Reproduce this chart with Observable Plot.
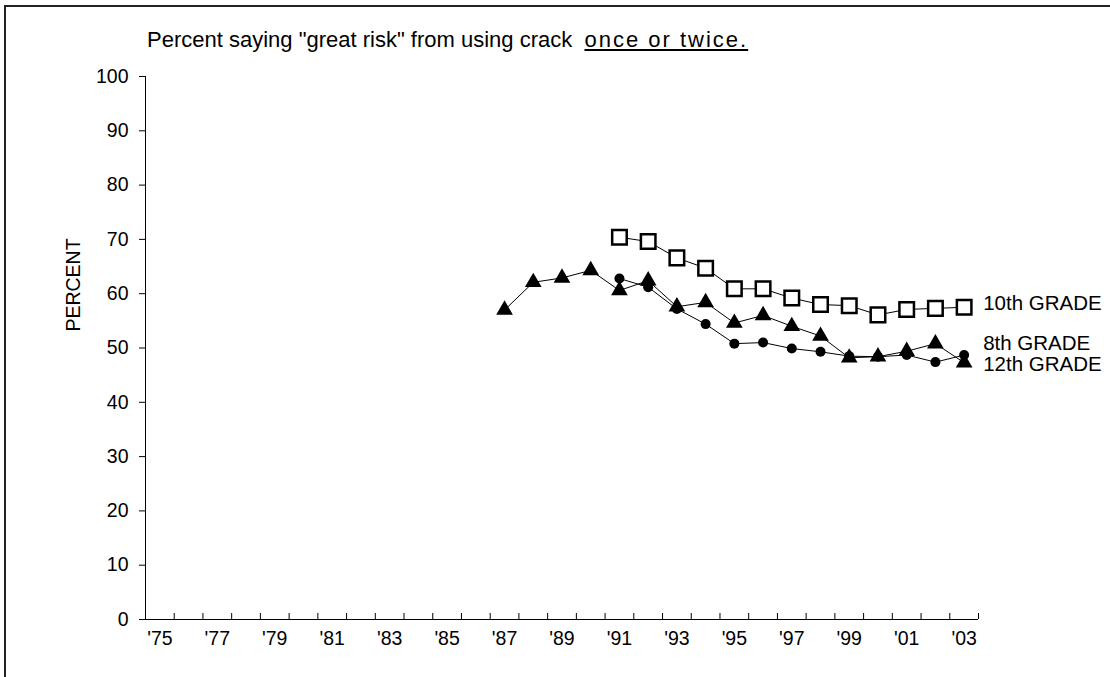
<!DOCTYPE html>
<html>
<head>
<meta charset="utf-8">
<script src="https://cdn.jsdelivr.net/npm/d3@7"></script>
<script src="https://cdn.jsdelivr.net/npm/@observablehq/plot@0.6"></script>
<style>
  html, body { margin: 0; padding: 0; background: #fff; overflow: hidden; width: 1110px; height: 677px; }
  #wrap { position: relative; width: 1110px; height: 677px; font-family: "Liberation Sans", Arial, sans-serif; color: #000; }
  #frame { position: absolute; left: 4px; top: 5px; width: 2000px; height: 2000px; border-left: 2px solid #222; border-top: 2px solid #222; pointer-events: none; }
  #title { position: absolute; left: 147px; top: 27px; font-size: 22px; line-height: 26px; white-space: pre; }
  #title u { text-decoration: underline; text-underline-offset: 2px; letter-spacing: 2px; }
  #ylabel { position: absolute; left: 73px; top: 285px; font-size: 19.5px; transform: translate(-50%, -50%) rotate(-90deg); white-space: nowrap; }
  #chart { position: absolute; left: 0; top: 0; }
</style>
</head>
<body>
<div id="wrap">
  <div id="chart"></div>
  <div id="frame"></div>
  <div id="title">Percent saying "great risk" from using crack  <u>once or twice.</u></div>
  <div id="ylabel">PERCENT</div>
</div>
<script>
// ---- data ----
const years12 = [1987, 1988, 1989, 1990, 1991, 1992, 1993, 1994, 1995, 1996, 1997, 1998, 1999, 2000, 2001, 2002, 2003];
const grade12 = [57.0, 62.1, 62.9, 64.3, 60.6, 62.4, 57.6, 58.4, 54.6, 56.0, 54.0, 52.2, 48.2, 48.4, 49.4, 50.8, 47.3];
const years8and10 = [1991, 1992, 1993, 1994, 1995, 1996, 1997, 1998, 1999, 2000, 2001, 2002, 2003];
const grade10 = [70.4, 69.6, 66.6, 64.7, 60.9, 60.9, 59.2, 58.0, 57.8, 56.1, 57.1, 57.3, 57.5];
const grade8  = [62.8, 61.2, 57.2, 54.4, 50.8, 51.0, 49.9, 49.3, 48.5, 48.4, 48.7, 47.4, 48.7];
const firstYear = 1975, lastYear = 2003;
const labelYears = d3.range(firstYear, lastYear + 1, 2);
const yTicks = d3.range(0, 101, 10);
const seriesLabels = ["10th GRADE", "8th GRADE", "12th GRADE"];

// ---- build tables ----
const s12 = years12.map((y, i) => ({year: y, value: grade12[i]}));
const s10 = years8and10.map((y, i) => ({year: y, value: grade10[i]}));
const s8 = years8and10.map((y, i) => ({year: y, value: grade8[i]}));
const boundaries = d3.range(firstYear - 0.5, lastYear + 1, 1);
const xDomain = [firstYear - 0.5, lastYear + 0.5];

const plot = Plot.plot({
  width: 1110,
  height: 677,
  marginLeft: 145,
  marginRight: 132,
  marginTop: 76,
  marginBottom: 58,
  style: {fontFamily: "'Liberation Sans', Arial, sans-serif", fontSize: "19.5px", background: "transparent", color: "#000"},
  x: {type: "linear", domain: xDomain},
  y: {domain: [0, 100]},
  marks: [
    Plot.axisY({ticks: yTicks, tickSize: 6, tickPadding: 11, label: null, tickFormat: d => String(d)}),
    Plot.ruleX([xDomain[0]], {stroke: "#000", strokeWidth: 1}),
    Plot.ruleY([0], {stroke: "#000", strokeWidth: 1}),
    Plot.axisX({ticks: boundaries.slice(1), tickSize: -6, tickFormat: () => "", label: null}),
    Plot.axisX({ticks: labelYears, tickSize: 0, tickPadding: 12, label: null, tickFormat: d => "'" + String(d).slice(2)}),
    Plot.line(s12, {x: "year", y: "value", stroke: "#000", strokeWidth: 1}),
    Plot.line(s8, {x: "year", y: "value", stroke: "#000", strokeWidth: 1}),
    Plot.line(s10, {x: "year", y: "value", stroke: "#000", strokeWidth: 1}),
    Plot.dot(s10, {x: "year", y: "value", symbol: "square", r: 8.2, fill: "#fff", stroke: "#000", strokeWidth: 2.5}),
    Plot.dot(s8, {x: "year", y: "value", symbol: "circle", r: 5, fill: "#000"}),
    Plot.dot(s12, {x: "year", y: "value", symbol: "triangle", r: 6.2, fill: "#000"}),
    Plot.text([s10[s10.length - 1]], {x: "year", y: "value", text: () => seriesLabels[0], textAnchor: "start", dx: 19, dy: -4, fontSize: 20.5, fill: "#000"}),
    Plot.text([s8[s8.length - 1]], {x: "year", y: "value", text: () => seriesLabels[1], textAnchor: "start", dx: 19, dy: -12, fontSize: 20.5, fill: "#000"}),
    Plot.text([s12[s12.length - 1]], {x: "year", y: "value", text: () => seriesLabels[2], textAnchor: "start", dx: 19, dy: 2, fontSize: 20.5, fill: "#000"})
  ]
});
document.getElementById("chart").appendChild(plot);
</script>
</body>
</html>
